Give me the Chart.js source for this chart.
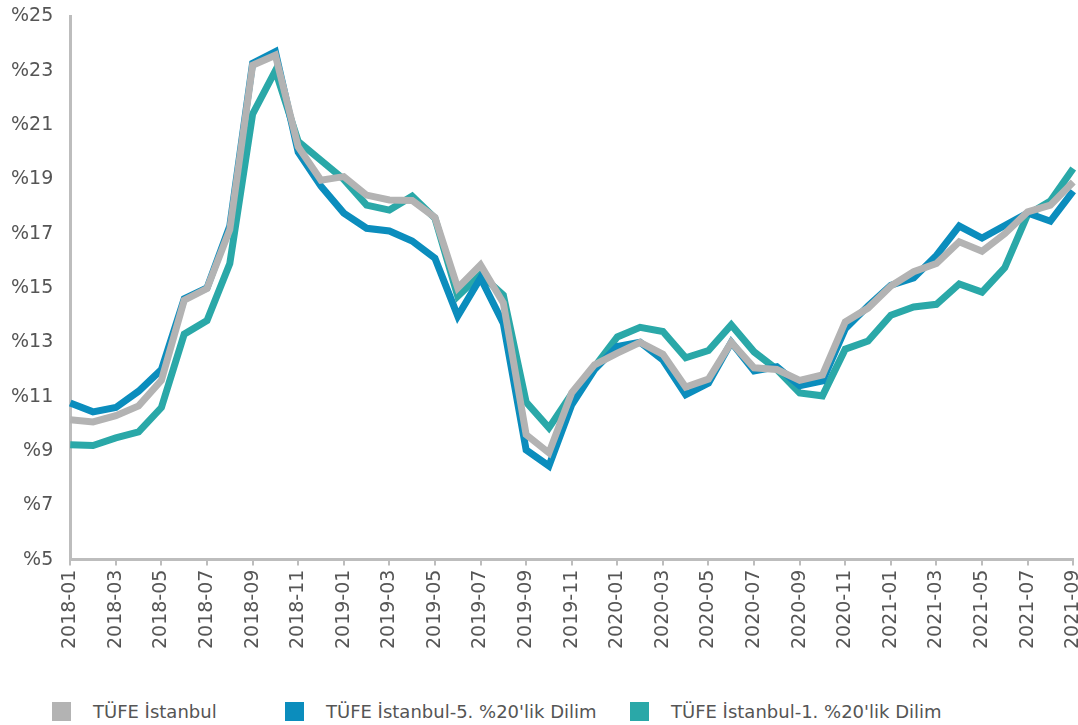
<!DOCTYPE html>
<html>
<head>
<meta charset="utf-8">
<script src="https://cdn.jsdelivr.net/npm/chart.js@4/dist/chart.umd.min.js"></script>
<style>
	html, body { margin: 0; padding: 0; background: #fff; }
	#wrap { position: relative; width: 1078px; height: 725px; overflow: hidden; }
	#chart { position: absolute; left: -10px; top: -12px; }
	.legend-item {
		position: absolute;
		top: 701px;
		font-family: "DejaVu Sans", sans-serif;
		font-size: 18px;
		color: #555;
		display: flex;
		align-items: center;
		white-space: nowrap;
	}
	.legend-item span.box { width: 19px; height: 19px; display: inline-block; margin-right: 22px; }
</style>
</head>
<body>
<div id="wrap">
	<canvas id="chart" width="1110" height="665"></canvas>
	<div id="legend"></div>
</div>
<script>
const months = [
	"2018-01", "2018-02", "2018-03", "2018-04", "2018-05", "2018-06", "2018-07", "2018-08", "2018-09", "2018-10", "2018-11", "2018-12",
	"2019-01", "2019-02", "2019-03", "2019-04", "2019-05", "2019-06", "2019-07", "2019-08", "2019-09", "2019-10", "2019-11", "2019-12",
	"2020-01", "2020-02", "2020-03", "2020-04", "2020-05", "2020-06", "2020-07", "2020-08", "2020-09", "2020-10", "2020-11", "2020-12",
	"2021-01", "2021-02", "2021-03", "2021-04", "2021-05", "2021-06", "2021-07", "2021-08", "2021-09"
];

const tufeIstanbul = [
	10.15, 10.07, 10.3, 10.66, 11.6, 14.55, 14.98, 17.15, 23.2, 23.57, 20.2, 18.97,
	19.1, 18.42, 18.24, 18.22, 17.6, 15.0, 15.85, 14.45, 9.6, 8.93, 11.14, 12.17,
	12.6, 13.0, 12.56, 11.35, 11.65, 13.0, 12.06, 12.0, 11.6, 11.8, 13.75, 14.26,
	15.07, 15.6, 15.9, 16.7, 16.35, 17.0, 17.8, 18.05, 18.9
];

const dilim5 = [
	10.77, 10.44, 10.6, 11.2, 12.0, 14.6, 15.0, 17.28, 23.27, 23.7, 20.0, 18.75,
	17.76, 17.2, 17.1, 16.73, 16.1, 13.97, 15.37, 13.7, 9.04, 8.45, 10.7, 12.0,
	12.85, 13.0, 12.35, 11.07, 11.5, 13.0, 11.95, 12.1, 11.4, 11.58, 13.5, 14.34,
	15.1, 15.37, 16.2, 17.28, 16.84, 17.3, 17.76, 17.46, 18.57
];

const dilim1 = [
	9.23, 9.2, 9.48, 9.7, 10.6, 13.3, 13.8, 15.9, 21.4, 23.0, 20.4, 19.7,
	19.0, 18.05, 17.87, 18.38, 17.57, 14.7, 15.5, 14.74, 10.8, 9.85, 11.1, 12.1,
	13.2, 13.55, 13.4, 12.43, 12.7, 13.64, 12.65, 12.0, 11.14, 11.03, 12.75, 13.05,
	14.0, 14.3, 14.4, 15.15, 14.85, 15.75, 17.7, 18.2, 19.4
];

const seriesNames = ["TÜFE İstanbul", "TÜFE İstanbul-5. %20'lik Dilim", "TÜFE İstanbul-1. %20'lik Dilim"];
const seriesColors = ["#b3b3b3", "#0b8dbd", "#2aa8a8"];

const yMin = 5, yMax = 25, yStep = 2;

// legend is plain html, items sit at fixed left offsets like the source
const legendLeft = [52, 285, 630];
const legend = document.getElementById("legend");
seriesNames.forEach(function (name, i) {
	const item = document.createElement("div");
	item.className = "legend-item";
	item.style.left = legendLeft[i] + "px";
	item.innerHTML = '<span class="box" style="background:' + seriesColors[i] + '"></span>' + name;
	legend.appendChild(item);
});

const axisColor = "#bdbdbd";
const textColor = "#555555";
const font = { family: "DejaVu Sans", size: 19 };

new Chart(document.getElementById("chart"), {
	type: "line",
	data: {
		labels: months,
		datasets: [tufeIstanbul, dilim5, dilim1].map(function (values, i) {
			return {
				label: seriesNames[i],
				data: values,
				borderColor: seriesColors[i],
				backgroundColor: seriesColors[i],
				borderWidth: 7,
				pointRadius: 0,
				tension: 0,
				fill: false,
			};
		}),
	},
	options: {
		responsive: false,
		animation: false,
		layout: { padding: { top: 5, right: 0, left: 4, bottom: 0 } },
		plugins: {
			legend: { display: false },
			tooltip: { enabled: false },
		},
		scales: {
			x: {
				offset: false,
				grid: { drawOnChartArea: false, drawTicks: true, tickLength: 6, color: axisColor, lineWidth: 2 },
				border: { color: axisColor, width: 3 },
				ticks: {
					color: textColor,
					font: font,
					autoSkip: false,
					maxRotation: 90,
					minRotation: 90,
					padding: 4,
					callback: function (val, idx) {
						return idx % 2 === 0 ? months[idx] : null;
					},
				},
			},
			y: {
				min: yMin,
				max: yMax,
				grid: { display: false, drawTicks: false },
				border: { color: axisColor, width: 3 },
				ticks: {
					stepSize: yStep,
					color: textColor,
					font: font,
					padding: 17,
					callback: function (v) { return "%" + v; },
				},
			},
		},
	},
});
</script>
</body>
</html>
